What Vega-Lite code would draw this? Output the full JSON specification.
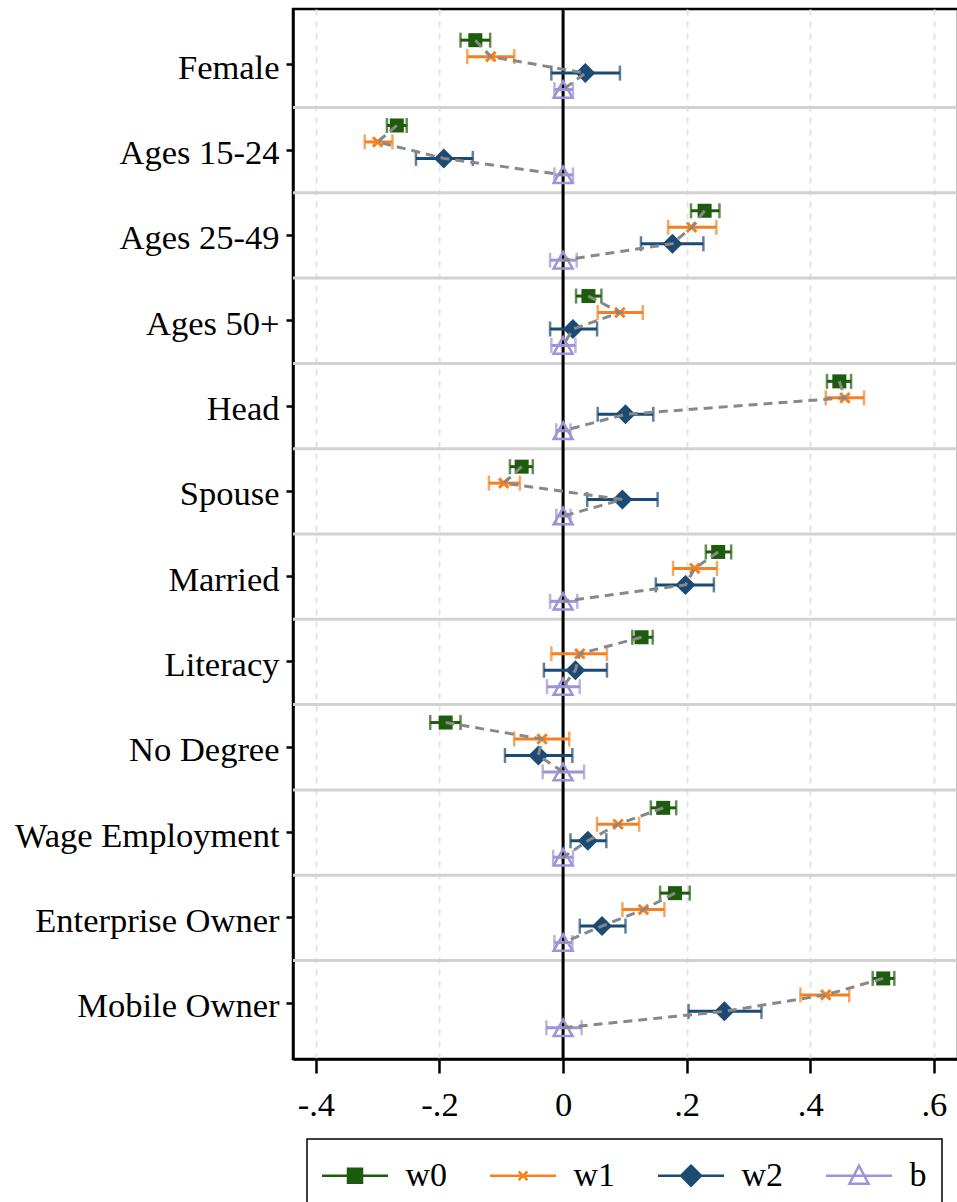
{
  "$schema": "https://vega.github.io/schema/vega-lite/v6.json",
  "width": 665,
  "height": 1050,
  "padding": {"left": 14, "top": 7, "right": 0, "bottom": 0},
  "config": {
    "font": "Liberation Serif",
    "view": {"stroke": "black", "strokeWidth": 2.5},
    "axis": {"labelFont": "Liberation Serif", "labelFontSize": 34.5, "labelColor": "black", "domainColor": "black", "domainWidth": 2.5, "tickColor": "black", "tickWidth": 2.5, "title": null, "labelLimit": 0},
    "legend": {"labelFont": "Liberation Serif", "labelFontSize": 34, "labelColor": "black", "symbolSize": 1600, "symbolStrokeWidth": 2.5, "strokeColor": "black", "padding": 15, "columnPadding": 37, "labelOffset": 29, "symbolOffset": 11.5, "gridAlign": "all"}
  },
  "datasets": {
    "coef": [
      {"cat": "Female", "series": "w0", "est": -0.142, "lo": -0.166, "hi": -0.118},
      {"cat": "Female", "series": "w1", "est": -0.117, "lo": -0.155, "hi": -0.079},
      {"cat": "Female", "series": "w2", "est": 0.036, "lo": -0.019, "hi": 0.092},
      {"cat": "Female", "series": "b", "est": 0.0, "lo": -0.014, "hi": 0.016},
      {"cat": "Ages 15-24", "series": "w0", "est": -0.269, "lo": -0.285, "hi": -0.253},
      {"cat": "Ages 15-24", "series": "w1", "est": -0.300, "lo": -0.321, "hi": -0.276},
      {"cat": "Ages 15-24", "series": "w2", "est": -0.193, "lo": -0.238, "hi": -0.146},
      {"cat": "Ages 15-24", "series": "b", "est": 0.0, "lo": -0.014, "hi": 0.016},
      {"cat": "Ages 25-49", "series": "w0", "est": 0.229, "lo": 0.207, "hi": 0.253},
      {"cat": "Ages 25-49", "series": "w1", "est": 0.208, "lo": 0.170, "hi": 0.248},
      {"cat": "Ages 25-49", "series": "w2", "est": 0.177, "lo": 0.126, "hi": 0.227},
      {"cat": "Ages 25-49", "series": "b", "est": 0.0, "lo": -0.021, "hi": 0.022},
      {"cat": "Ages 50+", "series": "w0", "est": 0.041, "lo": 0.021, "hi": 0.062},
      {"cat": "Ages 50+", "series": "w1", "est": 0.092, "lo": 0.056, "hi": 0.129},
      {"cat": "Ages 50+", "series": "w2", "est": 0.016, "lo": -0.021, "hi": 0.055},
      {"cat": "Ages 50+", "series": "b", "est": 0.0, "lo": -0.019, "hi": 0.020},
      {"cat": "Head", "series": "w0", "est": 0.447, "lo": 0.427, "hi": 0.466},
      {"cat": "Head", "series": "w1", "est": 0.456, "lo": 0.425, "hi": 0.487},
      {"cat": "Head", "series": "w2", "est": 0.101, "lo": 0.056, "hi": 0.146},
      {"cat": "Head", "series": "b", "est": 0.0, "lo": -0.011, "hi": 0.012},
      {"cat": "Spouse", "series": "w0", "est": -0.067, "lo": -0.086, "hi": -0.049},
      {"cat": "Spouse", "series": "w1", "est": -0.096, "lo": -0.120, "hi": -0.070},
      {"cat": "Spouse", "series": "w2", "est": 0.096, "lo": 0.039, "hi": 0.153},
      {"cat": "Spouse", "series": "b", "est": 0.0, "lo": -0.011, "hi": 0.012},
      {"cat": "Married", "series": "w0", "est": 0.251, "lo": 0.231, "hi": 0.272},
      {"cat": "Married", "series": "w1", "est": 0.213, "lo": 0.178, "hi": 0.249},
      {"cat": "Married", "series": "w2", "est": 0.198, "lo": 0.150, "hi": 0.244},
      {"cat": "Married", "series": "b", "est": 0.0, "lo": -0.021, "hi": 0.023},
      {"cat": "Literacy", "series": "w0", "est": 0.127, "lo": 0.112, "hi": 0.145},
      {"cat": "Literacy", "series": "w1", "est": 0.027, "lo": -0.019, "hi": 0.071},
      {"cat": "Literacy", "series": "w2", "est": 0.020, "lo": -0.031, "hi": 0.071},
      {"cat": "Literacy", "series": "b", "est": 0.0, "lo": -0.026, "hi": 0.027},
      {"cat": "No Degree", "series": "w0", "est": -0.190, "lo": -0.215, "hi": -0.166},
      {"cat": "No Degree", "series": "w1", "est": -0.034, "lo": -0.079, "hi": 0.010},
      {"cat": "No Degree", "series": "w2", "est": -0.040, "lo": -0.094, "hi": 0.015},
      {"cat": "No Degree", "series": "b", "est": 0.0, "lo": -0.033, "hi": 0.034},
      {"cat": "Wage Employment", "series": "w0", "est": 0.162, "lo": 0.142, "hi": 0.183},
      {"cat": "Wage Employment", "series": "w1", "est": 0.089, "lo": 0.055, "hi": 0.123},
      {"cat": "Wage Employment", "series": "w2", "est": 0.040, "lo": 0.012, "hi": 0.070},
      {"cat": "Wage Employment", "series": "b", "est": 0.0, "lo": -0.016, "hi": 0.016},
      {"cat": "Enterprise Owner", "series": "w0", "est": 0.181, "lo": 0.157, "hi": 0.205},
      {"cat": "Enterprise Owner", "series": "w1", "est": 0.130, "lo": 0.096, "hi": 0.164},
      {"cat": "Enterprise Owner", "series": "w2", "est": 0.063, "lo": 0.027, "hi": 0.101},
      {"cat": "Enterprise Owner", "series": "b", "est": 0.0, "lo": -0.014, "hi": 0.015},
      {"cat": "Mobile Owner", "series": "w0", "est": 0.518, "lo": 0.501, "hi": 0.536},
      {"cat": "Mobile Owner", "series": "w1", "est": 0.425, "lo": 0.384, "hi": 0.463},
      {"cat": "Mobile Owner", "series": "w2", "est": 0.261, "lo": 0.203, "hi": 0.321},
      {"cat": "Mobile Owner", "series": "b", "est": 0.0, "lo": -0.027, "hi": 0.030}
    ],
    "seps": [
      {"cat": "Female"}, {"cat": "Ages 15-24"}, {"cat": "Ages 25-49"}, {"cat": "Ages 50+"},
      {"cat": "Head"}, {"cat": "Spouse"}, {"cat": "Married"}, {"cat": "Literacy"},
      {"cat": "No Degree"}, {"cat": "Wage Employment"}, {"cat": "Enterprise Owner"}
    ]
  },
  "layer": [
    {
      "data": {"name": "seps"},
      "mark": {"type": "rule", "color": "#D2D2D2", "strokeWidth": 3},
      "encoding": {
        "y": {"field": "cat", "type": "nominal", "bandPosition": 1, "sort": null,
          "scale": {"domain": ["Female", "Ages 15-24", "Ages 25-49", "Ages 50+", "Head", "Spouse", "Married", "Literacy", "No Degree", "Wage Employment", "Enterprise Owner", "Mobile Owner"], "paddingInner": 0, "paddingOuter": 0.155},
          "axis": {"tickSize": 7, "labelPadding": 7, "labelOffset": 4, "grid": false, "title": null, "labelFontSize": 34.5, "labelFont": "Liberation Serif", "labelLimit": 0}}
      }
    },
    {
      "data": {"values": [{}]},
      "mark": {"type": "rule", "color": "black", "strokeWidth": 3},
      "encoding": {"x": {"datum": 0, "type": "quantitative",
        "scale": {"domain": [-0.437, 0.639], "nice": false, "zero": false},
        "axis": {"values": [-0.4, -0.2, 0, 0.2, 0.4, 0.6], "grid": true, "gridDash": [6, 6], "gridColor": "#E4E4E4", "gridWidth": 2, "tickSize": 14, "labelPadding": 15, "title": null,
          "labelExpr": "abs(datum.value) < 1e-9 ? '0' : replace(replace(format(datum.value, '.1f'), '0.', '.'), '\u2212', '-')"}}}
    },
    {
      "data": {"name": "coef"},
      "encoding": {
        "y": {"field": "cat", "type": "nominal", "sort": null,
          "scale": {"domain": ["Female", "Ages 15-24", "Ages 25-49", "Ages 50+", "Head", "Spouse", "Married", "Literacy", "No Degree", "Wage Employment", "Enterprise Owner", "Mobile Owner"], "paddingInner": 0, "paddingOuter": 0.155}},
        "yOffset": {"field": "series", "type": "nominal", "sort": null,
          "scale": {"domain": ["w0", "w1", "w2", "b"], "paddingInner": 0, "paddingOuter": 0.59}},
        "color": {"field": "series", "type": "nominal", "sort": null,
          "scale": {"domain": ["w0", "w1", "w2", "b"], "range": ["#1C5C0C", "#F5801F", "#1B4A73", "#9D93D8"]},
          "legend": {"orient": "none", "legendX": 14, "legendY": 1130, "direction": "horizontal", "columns": 4, "title": null,
            "encode": {
              "legend": {"update": {"strokeWidth": {"value": 1.5}, "stroke": {"value": "black"}}},
              "symbols": {"update": {
                "shape": {"signal": "datum.value === 'w0' ? 'M-1.65,0H1.65M-0.35,-0.35H0.35V0.35H-0.35Z' : datum.value === 'w1' ? 'M-1.65,0H1.65M-0.22,-0.22L0.22,0.22M0.22,-0.22L-0.22,0.22' : datum.value === 'w2' ? 'M-1.65,0H1.65M0,-0.5L0.5,0L0,0.5L-0.5,0Z' : 'M-1.65,0H1.65M0,-0.5L0.475,0.4H-0.475Z'"},
                "size": {"value": 1600},
                "fill": {"signal": "datum.value === 'w0' ? '#1C5C0C' : datum.value === 'w2' ? '#1B4A73' : 'white'"},
                "fillOpacity": {"signal": "datum.value === 'b' || datum.value === 'w1' ? 0 : 1"},
                "stroke": {"signal": "datum.value === 'w0' ? '#1C5C0C' : datum.value === 'w1' ? '#F5801F' : datum.value === 'w2' ? '#1B4A73' : '#9D93D8'"},
                "strokeWidth": {"value": 2.5},
                "opacity": {"value": 1}
              }}
            }}}
      },
      "layer": [
        {
          "mark": {"type": "rule", "strokeWidth": 3},
          "encoding": {"x": {"field": "lo", "type": "quantitative"}, "x2": {"field": "hi"}}
        },
        {
          "mark": {"type": "tick", "thickness": 2.5, "size": 15, "orient": "vertical"},
          "encoding": {"x": {"field": "lo", "type": "quantitative"}}
        },
        {
          "mark": {"type": "tick", "thickness": 2.5, "size": 15, "orient": "vertical"},
          "encoding": {"x": {"field": "hi", "type": "quantitative"}}
        },
        {
          "transform": [{"filter": {"field": "series", "equal": "w0"}}],
          "mark": {"type": "point", "shape": "square", "size": 196, "filled": true, "opacity": 1},
          "encoding": {"x": {"field": "est", "type": "quantitative"}}
        },
        {
          "transform": [{"filter": {"field": "series", "equal": "w1"}}],
          "mark": {"type": "point", "shape": "M-1,-1L1,1M1,-1L-1,1", "size": 90, "filled": false, "strokeWidth": 3, "opacity": 1},
          "encoding": {"x": {"field": "est", "type": "quantitative"}}
        },
        {
          "transform": [{"filter": {"field": "series", "equal": "w2"}}],
          "mark": {"type": "point", "shape": "diamond", "size": 400, "filled": true, "opacity": 1},
          "encoding": {"x": {"field": "est", "type": "quantitative"}}
        },
        {
          "transform": [{"filter": {"field": "series", "equal": "b"}}],
          "mark": {"type": "point", "shape": "triangle-up", "size": 360, "filled": false, "strokeWidth": 2.5, "opacity": 1},
          "encoding": {"x": {"field": "est", "type": "quantitative"}}
        },
        {
          "mark": {"type": "line", "strokeWidth": 3, "strokeDash": [9, 6]},
          "encoding": {
            "x": {"field": "est", "type": "quantitative"},
            "detail": {"field": "cat", "type": "nominal"},
            "order": {"value": null},
            "color": {"value": "#888888"}
          }
        }
      ]
    }
  ]
}
